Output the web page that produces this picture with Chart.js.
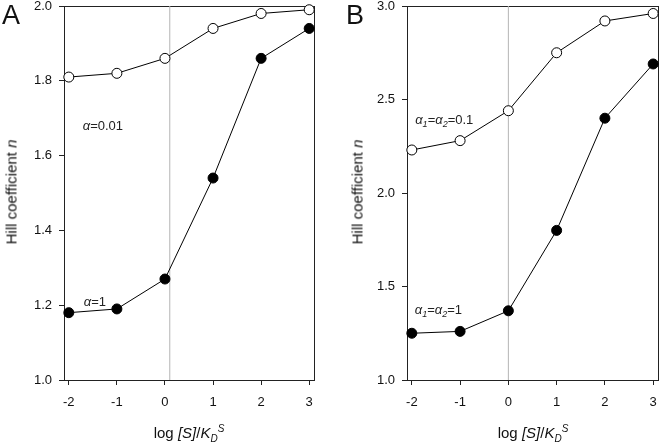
<!DOCTYPE html>
<html lang="en">
<head>
<meta charset="UTF-8" />
<title>Hill coefficient</title>
<script src="https://cdn.jsdelivr.net/npm/chart.js"></script>
<style>
  body { margin: 0; background: #fff; font-family: "Liberation Sans", Arial, sans-serif; color: #111; }
  #wrap { position: relative; width: 668px; height: 448px; overflow: hidden; }
  .panel { position: absolute; top: 0; width: 334px; height: 448px; }
  .letter { position: absolute; font-size: 27px; line-height: 1; }
  .ytitle { position: absolute; font-size: 15px; white-space: nowrap; transform: translate(-50%, -50%) rotate(-90deg); }
  .xtitle { position: absolute; font-size: 15px; white-space: nowrap; transform: translate(-50%, -50%); }
  .xtitle sub, .xtitle sup { font-size: 10px; font-style: italic; }
</style>
</head>
<body>
<div id="wrap">
  <div class="panel" style="left:0"><canvas id="chartA"></canvas></div>
  <div class="panel" style="left:334px"><canvas id="chartB"></canvas></div>

  <div class="letter" style="left:2px; top:2px">A</div>
  <div class="letter" style="left:346px; top:2px">B</div>

  <div class="ytitle" style="left:11px; top:192px">Hill coefficient <i>n</i></div>
  <div class="ytitle" style="left:357px; top:192px">Hill coefficient <i>n</i></div>

  <div class="xtitle" style="left:189px; top:433px">log <i>[S]</i>/<i>K</i><sub>D</sub><sup>S</sup></div>
  <div class="xtitle" style="left:533px; top:433px">log <i>[S]</i>/<i>K</i><sub>D</sub><sup>S</sup></div>
</div>

<script>
// x positions (log [S]/KD^S)
const xValues = [-2, -1, 0, 1, 2, 3];

// panel A
const openA   = [1.81, 1.82, 1.86, 1.94, 1.98, 1.99];   // alpha = 0.01
const filledA = [1.18, 1.19, 1.27, 1.54, 1.86, 1.94];   // alpha = 1
const yRangeA = [1.0, 2.0];
const yStepA  = 0.2;
const refXA   = 0.1;

// panel B
const openB   = [2.23, 2.28, 2.44, 2.75, 2.92, 2.96];   // a1 = a2 = 0.1
const filledB = [1.25, 1.26, 1.37, 1.80, 2.40, 2.69];   // a1 = a2 = 1
const yRangeB = [1.0, 3.0];
const yStepB  = 0.5;
const refXB   = 0;

const xRange = [-2.1, 3.1];

// annotation texts: [text, style] runs, anchored in data units
const notesA = [
  { at: [-1.71, 1.677], runs: [['α', 'i'], ['=0.01', 'n']] },
  { at: [-1.69, 1.208], runs: [['α', 'i'], ['=1', 'n']] }
];
const notesB = [
  { at: [-1.93, 2.387], runs: [['α', 'i'], ['1', 's'], ['=', 'n'], ['α', 'i'], ['2', 's'], ['=0.1', 'n']] },
  { at: [-1.94, 1.370], runs: [['α', 'i'], ['1', 's'], ['=', 'n'], ['α', 'i'], ['2', 's'], ['=1', 'n']] }
];

const FONT = '"Liberation Sans", Arial, sans-serif';

const framePlugin = {
  id: 'frame',
  beforeDatasetsDraw(chart) {
    const a = chart.chartArea, ctx = chart.ctx;
    ctx.save();
    ctx.strokeStyle = '#222';
    ctx.lineWidth = 1;
    ctx.strokeRect(Math.round(a.left) + 0.5, Math.round(a.top) + 0.5,
                   Math.round(a.right - a.left), Math.round(a.bottom - a.top));
    ctx.restore();
  },
  afterDatasetsDraw(chart, args, opts) {
    const ctx = chart.ctx, xs = chart.scales.x, ys = chart.scales.y;
    ctx.save();
    ctx.fillStyle = '#222';
    ctx.textBaseline = 'middle';
    (opts.notes || []).forEach(note => {
      let px = xs.getPixelForValue(note.at[0]);
      const py = ys.getPixelForValue(note.at[1]);
      note.runs.forEach(([txt, st]) => {
        if (st === 's') {
          ctx.font = 'italic 9px ' + FONT;
          ctx.fillText(txt, px, py + 4);
        } else {
          ctx.font = (st === 'i' ? 'italic ' : '') + '13px ' + FONT;
          ctx.fillText(txt, px, py);
        }
        px += ctx.measureText(txt).width;
      });
    });
    ctx.restore();
  }
};

function buildPanel(id, openVals, filledVals, yRange, yStep, refX, notes, yWidth, padRight) {
  const toPts = vals => xValues.map((x, i) => ({ x: x, y: vals[i] }));
  new Chart(document.getElementById(id), {
    type: 'line',
    data: {
      datasets: [
        {
          data: toPts(openVals),
          borderColor: '#000', borderWidth: 1,
          pointRadius: 5, pointBorderWidth: 1,
          pointBackgroundColor: '#fff', pointBorderColor: '#000',
          order: 0
        },
        {
          data: toPts(filledVals),
          borderColor: '#000', borderWidth: 1,
          pointRadius: 5, pointBorderWidth: 1,
          pointBackgroundColor: '#000', pointBorderColor: '#000',
          order: 1
        },
        {
          data: [{ x: refX, y: yRange[0] }, { x: refX, y: yRange[1] }],
          borderColor: '#b4b4b4', borderWidth: 1,
          pointRadius: 0,
          order: 5
        }
      ]
    },
    options: {
      responsive: true,
      maintainAspectRatio: false,
      animation: false,
      clip: false,
      layout: { padding: { left: 0, top: 5, right: padRight, bottom: 0 } },
      plugins: {
        legend: { display: false },
        tooltip: { enabled: false },
        frame: { notes: notes }
      },
      scales: {
        x: {
          type: 'linear',
          min: xRange[0], max: xRange[1],
          border: { display: false },
          grid: { drawOnChartArea: false, drawTicks: true, tickLength: 5, tickColor: '#222', color: '#222' },
          ticks: {
            stepSize: 1, includeBounds: false, padding: 10,
            color: '#111', font: { family: FONT, size: 13 },
            callback: v => String(v)
          },
          afterFit: s => { s.height = 68; s.paddingLeft = 0; s.paddingRight = 0; }
        },
        y: {
          type: 'linear',
          min: yRange[0], max: yRange[1],
          border: { display: false },
          grid: { drawOnChartArea: false, drawTicks: true, tickLength: 5, tickColor: '#222', color: '#222' },
          ticks: {
            stepSize: yStep, padding: 7,
            color: '#111', font: { family: FONT, size: 13 },
            callback: v => Number(v).toFixed(1)
          },
          afterFit: s => { s.width = yWidth; s.paddingTop = 0; s.paddingBottom = 0; }
        }
      }
    },
    plugins: [framePlugin]
  });
}

buildPanel('chartA', openA, filledA, yRangeA, yStepA, refXA, notesA, 64, 20);
buildPanel('chartB', openB, filledB, yRangeB, yStepB, refXB, notesB, 73, 10);
</script>
</body>
</html>
